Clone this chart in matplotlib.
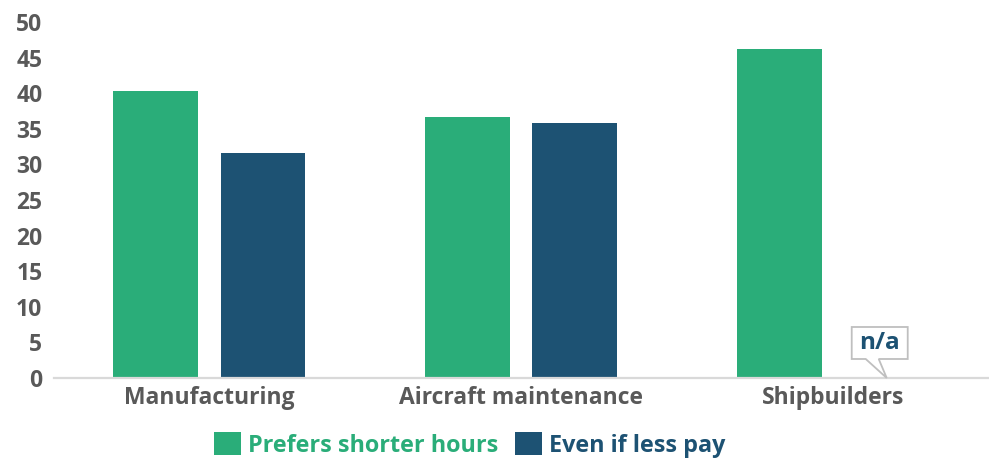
import matplotlib
matplotlib.use("Agg")
import matplotlib.pyplot as plt
import numpy as np
from matplotlib.patches import PathPatch, Patch
from matplotlib.path import Path

categories = ["Manufacturing", "Aircraft maintenance", "Shipbuilders"]
prefers_shorter = [40.3, 36.7, 46.2]
even_if_less_pay = [31.6, 35.8, None]  # no data for shipbuilders
series_names = ["Prefers shorter hours", "Even if less pay"]
y_ticks = [0, 5, 10, 15, 20, 25, 30, 35, 40, 45, 50]

GREEN = "#2AAD79"
BLUE = "#1D5273"
GRAY_TXT = "#595959"
AXIS = "#D9D9D9"
FONT = ["Open Sans", "DejaVu Sans"]

plt.rcParams["font.family"] = FONT
plt.rcParams["font.weight"] = "bold"

fig = plt.figure(figsize=(9.89, 4.58), dpi=100)
ax = fig.add_axes([0.0541, 0.1747, 0.9459, 0.7773])

x = np.arange(len(categories))
w = 0.272
off = 0.172

ax.bar(x - off, prefers_shorter, width=w, color=GREEN, zorder=2)
blue_vals = [v if v is not None else 0 for v in even_if_less_pay]
ax.bar(x + off, blue_vals, width=w, color=BLUE, zorder=2)

ax.set_xlim(-0.5, 2.5)
ax.set_ylim(0, 50)
ax.set_yticks(y_ticks)
ax.set_xticks(x)
ax.set_xticklabels(categories)

for s in ["top", "right", "left"]:
    ax.spines[s].set_visible(False)
ax.spines["bottom"].set_color(AXIS)
ax.spines["bottom"].set_linewidth(1.6)
ax.spines["bottom"].set_zorder(3)
ax.tick_params(axis="both", length=0, labelcolor=GRAY_TXT)
ax.tick_params(axis="y", pad=8, labelsize=16.5)
ax.tick_params(axis="x", pad=6, labelsize=16.5)
for lbl in ax.get_xticklabels() + ax.get_yticklabels():
    lbl.set_fontweight("bold")

# callout marking the missing value
for i, v in enumerate(even_if_less_pay):
    if v is None:
        ox, oy = ax.transData.transform((x[i] + off, 0))
        verts_px = [(0, 0), (-8, 19), (21, 19), (21, 51), (-35, 51), (-35, 19),
                    (-21, 19), (0, 0)]
        codes = [Path.MOVETO] + [Path.LINETO] * 6 + [Path.CLOSEPOLY]
        verts = [(ox + a, oy + b) for a, b in verts_px]
        patch = PathPatch(Path(verts, codes), facecolor="white", edgecolor="#BFBFBF",
                          linewidth=1.3, transform=None, zorder=4, clip_on=False)
        fig.add_artist(patch)
        fig.text((ox - 7) / fig.bbox.width, (oy + 35) / fig.bbox.height, "n/a",
                 ha="center", va="center", color=BLUE, fontsize=17.5,
                 fontweight="bold", zorder=5)

handles = [Patch(facecolor=GREEN), Patch(facecolor=BLUE)]
fig.legend(handles, series_names, loc="lower center", bbox_to_anchor=(0.475, -0.045),
           ncol=2, frameon=False, labelcolor=[GREEN, BLUE],
           handlelength=1.15, handleheight=1.15, handletextpad=0.28,
           columnspacing=0.75, prop={"weight": "bold", "size": 16.8, "family": FONT})

fig.savefig("out.png", dpi=100)
